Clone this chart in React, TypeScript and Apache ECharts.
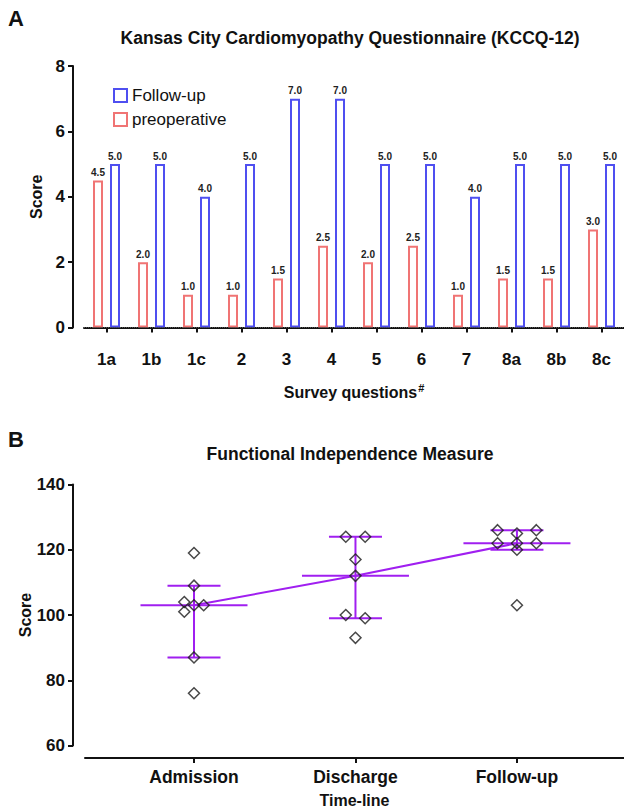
import React, { useEffect, useRef } from "react";
import * as echarts from "echarts";

// ---- Panel A data (KCCQ-12) ----
const questions = ["1a", "1b", "1c", "2", "3", "4", "5", "6", "7", "8a", "8b", "8c"];
const preoperative = [4.5, 2.0, 1.0, 1.0, 1.5, 2.5, 2.0, 2.5, 1.0, 1.5, 1.5, 3.0];
const followUp = [5.0, 5.0, 4.0, 5.0, 7.0, 7.0, 5.0, 5.0, 4.0, 5.0, 5.0, 5.0];

// ---- Panel B data (FIM) ----
const timeline = ["Admission", "Discharge", "Follow-up"];
const admissionScores = [119, 109, 104, 103, 103, 101, 87, 76];
const admissionColumns = [0, 0, -1, 0, 1, -1, 0, 0];
const dischargeScores = [124, 124, 117, 112, 100, 99, 93];
const dischargeColumns = [-1, 1, 0, 0, -1, 1, 0];
const followUpScores = [126, 126, 125, 122, 122, 122, 120, 103];
const followUpColumns = [-2, 2, 0, -2, 2, 0, 0, 0];
const medians = [103, 112, 122];
const lowerBars = [87, 99, 120];
const upperBars = [109, 124, 126];

const FONT = "'Liberation Sans', Arial, Helvetica, sans-serif";
const RED = "#f07474";
const BLUE = "#4f4ff0";
const PURPLE = "#a01ff0";
const INK = "#111";
const JITTER = 0.06;

export default function App() {
  const ref = useRef<HTMLDivElement>(null);

  useEffect(() => {
    document.body.style.margin = "0";
    if (!ref.current) return;
    const chart = echarts.init(ref.current, null, { renderer: "svg" });

    const groups = [admissionScores, dischargeScores, followUpScores];
    const cols = [admissionColumns, dischargeColumns, followUpColumns];
    const scatterData: number[][] = [];
    groups.forEach((vals, gi) => {
      vals.forEach((v, k) => scatterData.push([gi + cols[gi][k] * JITTER, v]));
    });

    const axisLine = { show: true, lineStyle: { color: INK, width: 2 } };
    const axisTick = { show: true, length: 5, lineStyle: { color: INK, width: 2 } };
    const tickLabel = { fontSize: 17, fontWeight: "bold" as const, color: INK, fontFamily: FONT };
    const axisName = { fontSize: 16, fontWeight: "bold" as const, color: INK, fontFamily: FONT };

    const option: any = {
      animation: false,
      textStyle: { fontFamily: FONT },
      graphic: [
        { type: "text", x: 8, y: 7, style: { text: "A", font: `bold 22px ${FONT}`, fill: INK } },
        {
          type: "text", x: 350, y: 38,
          style: { text: "Kansas City Cardiomyopathy Questionnaire (KCCQ-12)", font: `bold 17.5px ${FONT}`, fill: INK, align: "center", verticalAlign: "middle" },
        },
        { type: "text", x: 8, y: 428, style: { text: "B", font: `bold 22px ${FONT}`, fill: INK } },
        {
          type: "text", x: 350, y: 454,
          style: { text: "Functional Independence Measure", font: `bold 17.5px ${FONT}`, fill: INK, align: "center", verticalAlign: "middle" },
        },
      ],
      legend: {
        data: ["Follow-up", "preoperative"],
        orient: "vertical",
        left: 108,
        top: 82,
        itemWidth: 13,
        itemHeight: 13,
        itemGap: 7,
        icon: "rect",
        textStyle: { fontSize: 17, color: INK, fontFamily: FONT },
      },
      grid: [
        { left: 84, right: 0, top: 66, height: 261.5 },
        { left: 85, right: 0, top: 484.5, height: 261 },
      ],
      xAxis: [
        {
          type: "category",
          gridIndex: 0,
          data: questions,
          offset: 14.5,
          axisLine,
          axisTick: { ...axisTick, alignWithLabel: true },
          axisLabel: { ...tickLabel, margin: 9 },
          name: "Survey questions{sup|#}",
          nameLocation: "middle",
          nameGap: 40,
          nameTextStyle: {
            ...axisName,
            rich: { sup: { fontSize: 11, fontWeight: "bold", color: INK, fontFamily: FONT, verticalAlign: "top", padding: [0, 0, 10, 1] } },
          },
        },
        {
          type: "value",
          gridIndex: 1,
          min: -0.675,
          max: 2.663,
          offset: 12.5,
          axisLine,
          axisTick: { ...axisTick, customValues: [0, 1, 2] },
          axisLabel: { ...tickLabel, fontSize: 17.5, margin: 10, customValues: [0, 1, 2], formatter: (v: number) => timeline[Math.round(v)] },
          splitLine: { show: false },
          name: "Time-line",
          nameLocation: "middle",
          nameGap: 34,
          nameTextStyle: axisName,
        },
      ],
      yAxis: [
        {
          type: "value",
          gridIndex: 0,
          min: 0,
          max: 8,
          interval: 2,
          offset: 11,
          axisLine,
          axisTick,
          axisLabel: { ...tickLabel, margin: 8 },
          splitLine: { show: false },
          name: "Score",
          nameLocation: "middle",
          nameGap: 28,
          nameTextStyle: axisName,
        },
        {
          type: "value",
          gridIndex: 1,
          min: 60,
          max: 140,
          interval: 20,
          offset: 12,
          axisLine: { ...axisLine, onZero: false },
          axisTick,
          axisLabel: { ...tickLabel, margin: 8 },
          splitLine: { show: false },
          name: "Score",
          nameLocation: "middle",
          nameGap: 40,
          nameMoveOverlap: false,
          nameTextStyle: axisName,
        },
      ],
      series: [
        {
          name: "preoperative",
          type: "bar",
          xAxisIndex: 0,
          yAxisIndex: 0,
          data: preoperative,
          barWidth: 10,
          barGap: "70%",
          itemStyle: { color: "#fff", borderColor: RED, borderWidth: 2 },
          label: {
            show: true, position: "top", distance: 3, fontSize: 10, fontWeight: "bold", color: "#222",
            formatter: (p: any) => Number(p.value).toFixed(1),
          },
          markLine: {
            silent: true,
            symbol: "none",
            label: { show: false },
            lineStyle: { type: "dotted", color: "#555", width: 1 },
            data: [{ yAxis: 0 }],
          },
        },
        {
          name: "Follow-up",
          type: "bar",
          xAxisIndex: 0,
          yAxisIndex: 0,
          data: followUp,
          barWidth: 10,
          barGap: "70%",
          itemStyle: { color: "#fff", borderColor: BLUE, borderWidth: 2 },
          label: {
            show: true, position: "top", distance: 3, fontSize: 10, fontWeight: "bold", color: "#222",
            formatter: (p: any) => Number(p.value).toFixed(1),
          },
        },
        {
          name: "range",
          type: "custom",
          xAxisIndex: 1,
          yAxisIndex: 1,
          data: timeline.map((_, i) => [i, medians[i], lowerBars[i], upperBars[i]]),
          encode: { x: 0, y: [1, 2, 3] },
          renderItem: (params: any, api: any) => {
            const x = api.value(0);
            const c = api.coord([x, api.value(1)]);
            const lo = api.coord([x, api.value(2)]);
            const hi = api.coord([x, api.value(3)]);
            const style = { stroke: PURPLE, lineWidth: 2 };
            return {
              type: "group",
              children: [
                { type: "line", shape: { x1: c[0], y1: hi[1], x2: c[0], y2: lo[1] }, style },
                { type: "line", shape: { x1: c[0] - 26.5, y1: hi[1], x2: c[0] + 26.5, y2: hi[1] }, style },
                { type: "line", shape: { x1: c[0] - 26.5, y1: lo[1], x2: c[0] + 26.5, y2: lo[1] }, style },
                { type: "line", shape: { x1: c[0] - 53.5, y1: c[1], x2: c[0] + 53.5, y2: c[1] }, style },
              ],
            };
          },
          z: 2,
        },
        {
          name: "median",
          type: "line",
          xAxisIndex: 1,
          yAxisIndex: 1,
          data: timeline.map((_, i) => [i, medians[i]]),
          symbol: "none",
          lineStyle: { color: PURPLE, width: 2 },
          z: 3,
        },
        {
          name: "FIM",
          type: "scatter",
          xAxisIndex: 1,
          yAxisIndex: 1,
          data: scatterData,
          symbol: "diamond",
          symbolSize: 11,
          itemStyle: { color: "rgba(0,0,0,0)", borderColor: "#1a1a1a", borderWidth: 1.5 },
          z: 5,
        },
      ],
    };

    chart.setOption(option);
    return () => chart.dispose();
  }, []);

  return <div ref={ref} style={{ width: 624, height: 812 }} />;
}
